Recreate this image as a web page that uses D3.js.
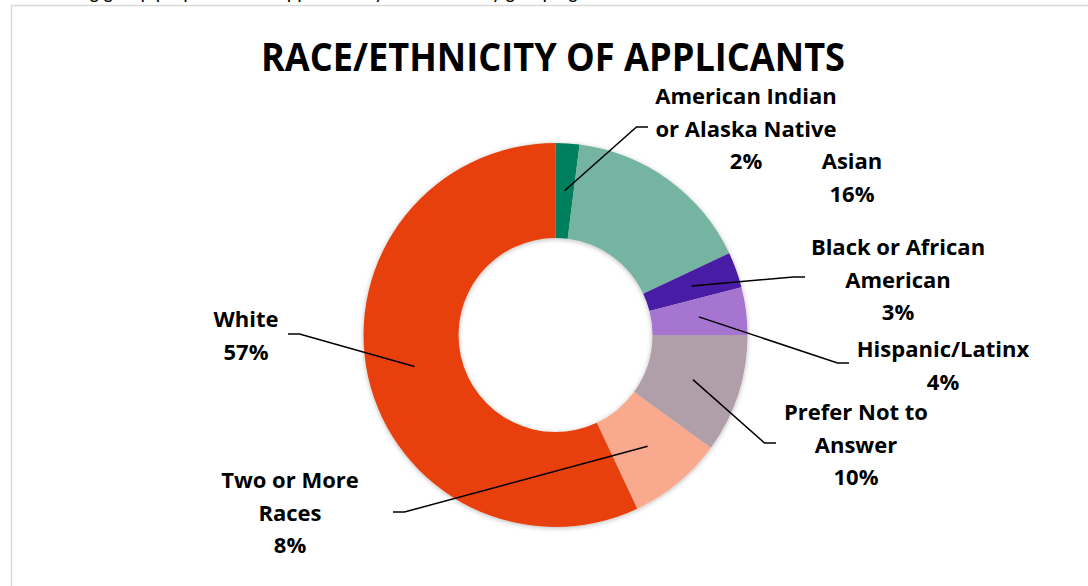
<!DOCTYPE html>
<html>
<head>
<meta charset="utf-8">
<script src="https://cdn.jsdelivr.net/npm/d3@7"></script>
<style>
  html, body { margin: 0; padding: 0; background: #ffffff; overflow: hidden; }
  svg { display: block; }
  text { font-family: "Open Sans", Lato, sans-serif; }
</style>
</head>
<body>
<svg id="chart" width="1088" height="586"></svg>
<script>
// Applicant race/ethnicity shares (percent), clockwise from 12 o'clock
const categories = [
  "American Indian or Alaska Native",
  "Asian",
  "Black or African American",
  "Hispanic/Latinx",
  "Prefer Not to Answer",
  "Two or More Races",
  "White"
];
const shares = [2, 16, 3, 4, 10, 8, 57];
const sliceColors = ["#007f5f", "#76b4a2", "#4a1aa6", "#a675d0", "#b09ea8", "#f9a98e", "#e8400e"];
// label text, broken into lines as displayed
const labelLines = [
  ["American Indian", "or Alaska Native"],
  ["Asian"],
  ["Black or African", "American"],
  ["Hispanic/Latinx"],
  ["Prefer Not to", "Answer"],
  ["Two or More", "Races"],
  ["White"]
];
const title = "RACE/ETHNICITY OF APPLICANTS";

// layout: label block centre x / first baseline, and leader-line attach point (null = no leader)
const labelLayout = [
  { x: 746, y: 104, attach: [648, 127], side: "right" },
  { x: 852, y: 169, attach: null },
  { x: 898, y: 255, attach: [805, 277], side: "right" },
  { x: 943, y: 357, attach: [849, 363], side: "right" },
  { x: 856, y: 420, attach: [776, 443], side: "right" },
  { x: 290, y: 488, attach: [393, 512], side: "left" },
  { x: 246, y: 327, attach: [288, 334], side: "left" }
];
const lineHeight = 32.5;

const svg = d3.select("#chart");
const cx = 555.5, cy = 335, rOuter = 192, rInner = 97;

// cropped line of body text above the chart frame
svg.append("text")
  .attr("x", 30).attr("y", -1)
  .style("font-family", "Calibri, Lato, sans-serif")
  .style("font-size", "20px")
  .attr("fill", "#000")
  .text("Showing group proportions of applicants by race/ethnicity grouping.");

// chart frame
svg.append("rect")
  .attr("x", 11.5).attr("y", 5.5)
  .attr("width", 1200).attr("height", 700)
  .attr("fill", "#ffffff")
  .attr("stroke", "#d9d9d9").attr("stroke-width", 1.5);

// title
svg.append("text")
  .attr("x", 553).attr("y", 71)
  .attr("text-anchor", "middle")
  .style("font-weight", 700)
  .style("font-size", "40px")
  .attr("textLength", 584)
  .attr("lengthAdjust", "spacingAndGlyphs")
  .attr("fill", "#000")
  .text(title);

const defs = svg.append("defs");
const shadow = defs.append("filter").attr("id", "ringShadow")
  .attr("x", "-10%").attr("y", "-10%").attr("width", "120%").attr("height", "120%");
shadow.append("feDropShadow")
  .attr("dx", 0).attr("dy", 1).attr("stdDeviation", 2.5)
  .attr("flood-color", "#000").attr("flood-opacity", 0.28);

const data = categories.map((c, i) => ({ name: c, value: shares[i], i }));
const pie = d3.pie().value(d => d.value).sort(null);
const arcs = pie(data);
const arc = d3.arc().innerRadius(rInner).outerRadius(rOuter);
const midArc = d3.arc().innerRadius((rInner + rOuter) / 2).outerRadius((rInner + rOuter) / 2);

const g = svg.append("g").attr("transform", `translate(${cx},${cy})`);
g.append("g").attr("filter", "url(#ringShadow)")
  .selectAll("path")
  .data(arcs)
  .join("path")
  .attr("d", arc)
  .attr("fill", d => sliceColors[d.data.i]);

// leader lines: from slice middle to elbow, then short horizontal run to label
const leaders = svg.append("g");
arcs.forEach(a => {
  const L = labelLayout[a.data.i];
  if (!L.attach) return;
  const c = midArc.centroid(a);
  const start = [cx + c[0], cy + c[1]];
  const [ax, ay] = L.attach;
  const elbow = [L.side === "right" ? ax - 11.5 : ax + 11.5, ay];
  leaders.append("path")
    .attr("d", d3.line()([start, elbow, [ax, ay]]))
    .attr("fill", "none")
    .attr("stroke", "#000")
    .attr("stroke-width", 1.5);
});

// labels: category lines then percentage
const labels = svg.append("g");
arcs.forEach(a => {
  const L = labelLayout[a.data.i];
  const lines = labelLines[a.data.i].concat([d3.format(".0f")(a.data.value) + "%"]);
  const t = labels.append("text")
    .attr("text-anchor", "middle")
    .style("font-weight", 700)
    .style("font-size", "22px")
    .attr("fill", "#000");
  lines.forEach((s, k) => {
    t.append("tspan").attr("x", L.x).attr("y", L.y + k * lineHeight).text(s);
  });
});
</script>
</body>
</html>
